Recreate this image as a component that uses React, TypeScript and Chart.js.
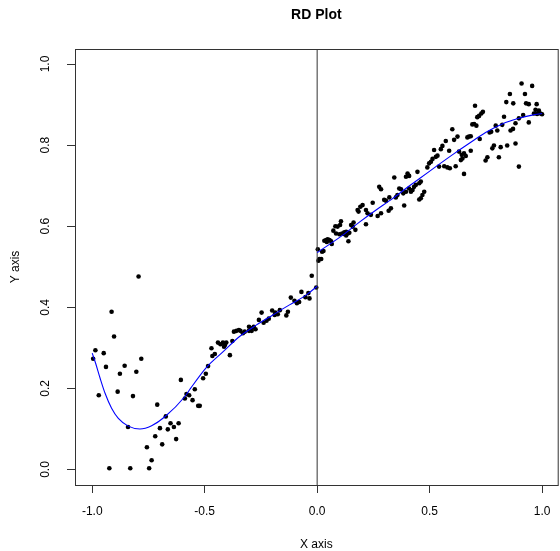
import React, { useEffect, useRef } from "react";
import { Chart, registerables } from "chart.js";

Chart.register(...registerables);

const chartTitle = "RD Plot";
const xAxisTitle = "X axis";
const yAxisTitle = "Y axis";
const xTicks = [-1, -0.5, 0, 0.5, 1];
const yTicks = [0, 0.2, 0.4, 0.6, 0.8, 1.0];
const cutoff = 0;

// observations left of the cutoff [x, y]
const leftPoints: [number, number][] = [
  [-0.794, 0.476], [-0.914, 0.389], [-0.903, 0.328], [-0.986, 0.294], [-0.949, 0.287],
  [-0.996, 0.273], [-0.782, 0.273], [-0.939, 0.253], [-0.856, 0.256], [-0.877, 0.236],
  [-0.804, 0.241], [-0.971, 0.183], [-0.887, 0.192], [-0.819, 0.181], [-0.606, 0.221],
  [-0.711, 0.16], [-0.841, 0.105], [-0.673, 0.131], [-0.652, 0.114], [-0.616, 0.114],
  [-0.699, 0.102], [-0.664, 0.099], [-0.637, 0.105], [-0.72, 0.082], [-0.627, 0.075],
  [-0.757, 0.055], [-0.689, 0.062], [-0.736, 0.023], [-0.924, 0.003], [-0.831, 0.003],
  [-0.747, 0.003], [-0.581, 0.186], [-0.569, 0.183], [-0.588, 0.175], [-0.554, 0.171],
  [-0.544, 0.198], [-0.529, 0.157], [-0.522, 0.157], [-0.507, 0.225],
  [-0.495, 0.236], [-0.485, 0.255], [-0.47, 0.299], [-0.455, 0.285], [-0.466, 0.28],
  [-0.441, 0.313], [-0.43, 0.309], [-0.419, 0.313], [-0.41, 0.307], [-0.404, 0.313],
  [-0.414, 0.303], [-0.388, 0.282], [-0.377, 0.317], [-0.37, 0.34], [-0.359, 0.342],
  [-0.348, 0.344], [-0.341, 0.342], [-0.33, 0.336], [-0.322, 0.34], [-0.303, 0.352],
  [-0.293, 0.348], [-0.282, 0.352], [-0.274, 0.346], [-0.303, 0.342], [-0.291, 0.342],
  [-0.259, 0.369], [-0.247, 0.387], [-0.238, 0.362], [-0.225, 0.367], [-0.215, 0.372],
  [-0.2, 0.392], [-0.186, 0.387], [-0.175, 0.383], [-0.189, 0.381], [-0.166, 0.393],
  [-0.13, 0.389], [-0.137, 0.38], [-0.117, 0.424], [-0.101, 0.416], [-0.09, 0.41],
  [-0.08, 0.413], [-0.07, 0.438], [-0.039, 0.435], [-0.052, 0.425], [-0.034, 0.422],
  [-0.024, 0.478], [-0.004, 0.449],
];

// observations right of the cutoff [x, y]
const rightPoints: [number, number][] = [
  [0.003, 0.543], [0.01, 0.519], [0.018, 0.519], [0.006, 0.515], [0.022, 0.537],
  [0.028, 0.539], [0.032, 0.564], [0.04, 0.566], [0.047, 0.568], [0.055, 0.566],
  [0.043, 0.561], [0.062, 0.563], [0.065, 0.556], [0.072, 0.589], [0.084, 0.582],
  [0.081, 0.6], [0.091, 0.599], [0.106, 0.612], [0.102, 0.603], [0.099, 0.58],
  [0.111, 0.582], [0.121, 0.585], [0.129, 0.586], [0.136, 0.582], [0.143, 0.584],
  [0.129, 0.577], [0.117, 0.581], [0.139, 0.563], [0.151, 0.603], [0.162, 0.609],
  [0.158, 0.599], [0.17, 0.591], [0.18, 0.64], [0.184, 0.636], [0.217, 0.605],
  [0.402, 0.73], [0.409, 0.724], [0.395, 0.722], [0.446, 0.734], [0.343, 0.72],
  [0.439, 0.702], [0.431, 0.697], [0.424, 0.689], [0.417, 0.685], [0.409, 0.693],
  [0.276, 0.697], [0.284, 0.691], [0.365, 0.693], [0.373, 0.691], [0.383, 0.681],
  [0.395, 0.685], [0.357, 0.677], [0.35, 0.671], [0.298, 0.665], [0.306, 0.663],
  [0.321, 0.671], [0.247, 0.658], [0.202, 0.652], [0.192, 0.648], [0.328, 0.644],
  [0.318, 0.638], [0.387, 0.651], [0.217, 0.64], [0.224, 0.632], [0.239, 0.628],
  [0.269, 0.625], [0.284, 0.632], [0.461, 0.71], [0.454, 0.706], [0.476, 0.685],
  [0.468, 0.677], [0.461, 0.669], [0.454, 0.666],
  [0.909, 0.952], [0.956, 0.946], [0.857, 0.926], [0.924, 0.926], [0.841, 0.906],
  [0.872, 0.903], [0.929, 0.903], [0.941, 0.901], [0.976, 0.901], [0.702, 0.897],
  [0.737, 0.882], [0.73, 0.878], [0.72, 0.872], [0.712, 0.869], [0.971, 0.887],
  [0.986, 0.885], [0.964, 0.878], [0.978, 0.877], [0.993, 0.878], [1.0, 0.876],
  [0.916, 0.874], [0.897, 0.866], [0.882, 0.854], [0.941, 0.856], [0.831, 0.87],
  [0.823, 0.85], [0.794, 0.848], [0.698, 0.852], [0.708, 0.848], [0.69, 0.851],
  [0.86, 0.836], [0.871, 0.84], [0.801, 0.836], [0.767, 0.831], [0.774, 0.833],
  [0.601, 0.839], [0.683, 0.822], [0.675, 0.821], [0.668, 0.819], [0.723, 0.815],
  [0.609, 0.813], [0.624, 0.821], [0.572, 0.81], [0.786, 0.799], [0.779, 0.792],
  [0.816, 0.795], [0.845, 0.799], [0.882, 0.804], [0.557, 0.798], [0.55, 0.79],
  [0.52, 0.788], [0.587, 0.786], [0.631, 0.784], [0.653, 0.78], [0.683, 0.786],
  [0.643, 0.776], [0.646, 0.767], [0.661, 0.773], [0.528, 0.771], [0.535, 0.774],
  [0.513, 0.766], [0.506, 0.759], [0.498, 0.755], [0.49, 0.745], [0.757, 0.77],
  [0.749, 0.762], [0.808, 0.77], [0.565, 0.748], [0.579, 0.745], [0.59, 0.743],
  [0.542, 0.747], [0.616, 0.748], [0.639, 0.763], [0.897, 0.747], [0.653, 0.729],
];

// fitted curves [x, y]
const leftFit: [number, number][] = [
  [-1, 0.287], [-0.985, 0.262], [-0.965, 0.225], [-0.943, 0.188], [-0.914, 0.151],
  [-0.884, 0.126], [-0.84, 0.107], [-0.788, 0.1], [-0.736, 0.108], [-0.677, 0.13],
  [-0.588, 0.18], [-0.563, 0.2], [-0.492, 0.252], [-0.419, 0.29], [-0.345, 0.328],
  [-0.271, 0.356], [-0.197, 0.381], [-0.123, 0.406], [-0.049, 0.43], [0, 0.452],
];
const rightFit: [number, number][] = [
  [0, 0.535], [0.114, 0.578], [0.188, 0.61], [0.262, 0.64], [0.335, 0.668],
  [0.409, 0.699], [0.454, 0.717], [0.528, 0.747], [0.601, 0.776], [0.675, 0.804],
  [0.749, 0.831], [0.823, 0.852], [0.897, 0.866], [0.956, 0.874], [1.0, 0.878],
];

const FONT = "'Liberation Sans', Arial, Helvetica, sans-serif";
const toXY = (arr: [number, number][]) => arr.map(([x, y]) => ({ x, y }));

export default function App() {
  const ref = useRef<HTMLCanvasElement>(null);

  useEffect(() => {
    if (!ref.current) return;
    const boxPlugin = {
      id: "rbox",
      afterDraw(chart: any) {
        const { ctx, chartArea: a } = chart;
        ctx.save();
        ctx.strokeStyle = "#333";
        ctx.lineWidth = 1;
        ctx.strokeRect(a.left + 0.5, a.top + 0.5, a.right - a.left, a.bottom - a.top);
        ctx.restore();
      },
    };
    const tickFmt = (v: any) => Number(v).toFixed(1);
    const chart = new Chart(ref.current, {
      type: "scatter",
      data: {
        datasets: [
          {
            type: "line",
            data: toXY(leftFit),
            borderColor: "#0000ff",
            borderWidth: 1.1,
            pointRadius: 0,
            cubicInterpolationMode: "monotone",
            fill: false,
            order: 0,
          } as any,
          {
            type: "line",
            data: toXY(rightFit),
            borderColor: "#0000ff",
            borderWidth: 1.1,
            pointRadius: 0,
            cubicInterpolationMode: "monotone",
            fill: false,
            order: 0,
          } as any,
          {
            data: toXY(leftPoints.concat(rightPoints)),
            backgroundColor: "#000",
            borderWidth: 0,
            pointRadius: 2.3,
            pointHoverRadius: 2.3,
            order: 2,
          },
          {
            type: "line",
            data: [
              { x: cutoff, y: -0.1 },
              { x: cutoff, y: 1.1 },
            ],
            borderColor: "#333",
            borderWidth: 1,
            pointRadius: 0,
            fill: false,
            order: 1,
          } as any,
        ],
      },
      options: {
        animation: false,
        responsive: false,
        devicePixelRatio: 1,
        events: [],
        layout: { padding: { top: 0, right: 1, left: 0, bottom: 0 } },
        plugins: {
          legend: { display: false },
          tooltip: { enabled: false },
          title: {
            display: true,
            text: chartTitle,
            fullSize: false,
            color: "#000",
            font: { family: FONT, size: 14, weight: "bold", lineHeight: 1 },
            padding: { top: 8, bottom: 27 },
          },
        },
        scales: {
          x: {
            type: "linear",
            min: -1.0767,
            max: 1.0696,
            afterBuildTicks: (s: any) => {
              s.ticks = xTicks.map((v) => ({ value: v }));
            },
            afterFit: (s: any) => {
              s.height = 66;
              s.paddingLeft = 0;
              s.paddingRight = 0;
            },
            border: { display: false },
            grid: { drawOnChartArea: false, drawTicks: true, tickLength: 8, color: "#333", lineWidth: 1 },
            ticks: {
              color: "#000",
              font: { family: FONT, size: 12 },
              padding: 11.5,
              maxRotation: 0,
              autoSkip: false,
              callback: tickFmt,
            },
            title: {
              display: true,
              text: xAxisTitle,
              color: "#000",
              font: { family: FONT, size: 12, lineHeight: 1 },
              padding: { top: 0, bottom: 0 },
            },
          },
          y: {
            type: "linear",
            min: -0.0382,
            max: 1.037,
            afterBuildTicks: (s: any) => {
              s.ticks = yTicks.map((v) => ({ value: v }));
            },
            afterFit: (s: any) => {
              s.width = 75;
              s.paddingTop = 0;
              s.paddingBottom = 0;
            },
            border: { display: false },
            grid: { drawOnChartArea: false, drawTicks: true, tickLength: 8, color: "#333", lineWidth: 1 },
            ticks: {
              color: "#000",
              font: { family: FONT, size: 12 },
              padding: 13,
              minRotation: 90,
              maxRotation: 90,
              crossAlign: "center",
              autoSkip: false,
              callback: tickFmt,
            },
            title: {
              display: true,
              text: yAxisTitle,
              color: "#000",
              font: { family: FONT, size: 12, lineHeight: 1 },
              padding: { top: 10, bottom: 0 },
            },
          },
        },
      },
      plugins: [boxPlugin],
    } as any);
    return () => chart.destroy();
  }, []);

  return (
    <div style={{ position: "absolute", left: 0, top: 0, width: 560, height: 551, background: "#fff" }}>
      <canvas ref={ref} width={560} height={551} style={{ display: "block" }} />
    </div>
  );
}
